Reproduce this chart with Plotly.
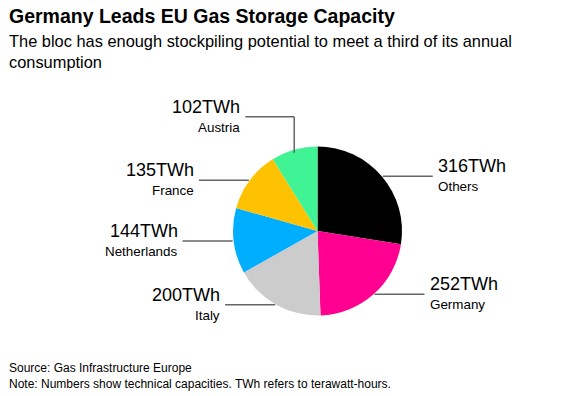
import numpy as np
import plotly.graph_objects as go

countries = ["Others", "Germany", "Italy", "Netherlands", "France", "Austria"]
values_twh = [316, 252, 200, 144, 135, 102]
colors = ["#000000", "#FF0090", "#CCCCCC", "#00AEFF", "#FFC200", "#40F495"]

W, H = 563, 396
cx, cy, r = 317.5, 231.0, 84.5  # pie centre / radius in px (layout)

fig = go.Figure(go.Pie(
    labels=countries, values=values_twh, sort=False, direction="clockwise",
    rotation=0, marker=dict(colors=colors, line=dict(width=0)),
    textinfo="none", hoverinfo="label+value", showlegend=False,
    domain=dict(x=[(cx - r) / W, (cx + r) / W], y=[(H - cy - r) / H, (H - cy + r) / H]),
))

def px(x):
    return x / W

def py(y):
    return 1 - y / H

vals = np.array(values_twh, dtype=float)
cum = np.cumsum(vals) - vals / 2
ang = cum / vals.sum() * 2 * np.pi
shapes, annots = [], []
line_style = dict(color="#666666", width=1.5)
font_main = "Liberation Sans, Arial, sans-serif"
for name, v, a in zip(countries, values_twh, ang):
    ex = cx + r * np.sin(a)
    ey = cy - r * np.cos(a)
    right = np.sin(a) > 0
    if np.cos(a) > 0.9:  # near top: elbow leader
        ly = ey - 33
        shapes.append(dict(type="line", xref="paper", yref="paper",
                           x0=px(ex), y0=py(ey + 3), x1=px(ex), y1=py(ly), line=line_style))
        x_end = ex - 49
        shapes.append(dict(type="line", xref="paper", yref="paper",
                           x0=px(ex), y0=py(ly), x1=px(x_end), y1=py(ly), line=line_style))
    else:
        ly = ey
        x_end = ex + 51 if right else ex - 51
        shapes.append(dict(type="line", xref="paper", yref="paper",
                           x0=px(ex + (1 if right else -1)), y0=py(ly), x1=px(x_end), y1=py(ly), line=line_style))
    tx = x_end + 3 if right else x_end - 3
    anchor = "left" if right else "right"
    annots.append(dict(xref="paper", yref="paper", x=px(tx), y=py(ly + 2), text=f"{v}TWh",
                       xanchor=anchor, yanchor="bottom", showarrow=False,
                       font=dict(family=font_main, size=18, color="#000000")))
    annots.append(dict(xref="paper", yref="paper", x=px(tx), y=py(ly + 1), text=name,
                       xanchor=anchor, yanchor="top", showarrow=False,
                       font=dict(family=font_main, size=13.4, color="#000000")))

annots += [
    dict(xref="paper", yref="paper", x=px(7), y=py(3), xanchor="left", yanchor="top",
         showarrow=False, text="<b>Germany Leads EU Gas Storage Capacity</b>",
         font=dict(family=font_main, size=19.5, color="#000000")),
    dict(xref="paper", yref="paper", x=px(7), y=py(30), xanchor="left", yanchor="top",
         showarrow=False, align="left",
         text="The bloc has enough stockpiling potential to meet a third of its annual<br>consumption",
         font=dict(family=font_main, size=16.4, color="#000000")),
    dict(xref="paper", yref="paper", x=px(7), y=py(359), xanchor="left", yanchor="top",
         showarrow=False, align="left",
         text="Source: Gas Infrastructure Europe<br>Note: Numbers show technical capacities. TWh refers to terawatt-hours.",
         font=dict(family=font_main, size=12, color="#000000")),
]

fig.update_layout(width=W, height=H, margin=dict(l=0, r=0, t=0, b=0),
                  paper_bgcolor="white", plot_bgcolor="white",
                  shapes=shapes, annotations=annots)
fig.write_html("out.html", config={"displayModeBar": False},
               post_script="document.body.style.margin='0';document.body.style.overflow='hidden';")
